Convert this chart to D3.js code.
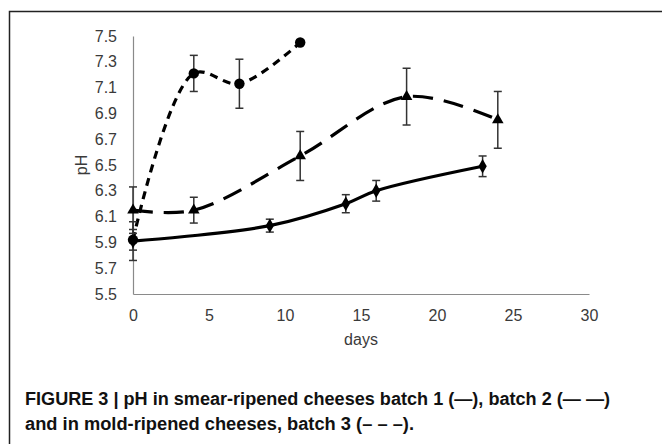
<!DOCTYPE html>
<html>
<head>
<meta charset="utf-8">
<script src="https://cdn.jsdelivr.net/npm/d3@7"></script>
<style>
  body { margin: 0; background: #fff; }
  svg { display: block; font-family: "Liberation Sans", Arial, sans-serif; }
  .tick text { fill: #3a3a3a; font-size: 16px; }
  .label { fill: #3a3a3a; font-size: 16px; }
  .caption { fill: #111; font-size: 17.5px; font-weight: bold; }
</style>
</head>
<body>
<svg></svg>
<script>
// batch 1, smear-ripened (solid, diamonds)
var days1 = [0, 9, 14, 16, 23]
var ph1 = [5.91, 6.03, 6.20, 6.30, 6.49]
var err1 = [0.15, 0.05, 0.07, 0.08, 0.08]

// batch 2, smear-ripened (long dash, triangles)
var days2 = [0, 4, 11, 18, 24]
var ph2 = [6.15, 6.15, 6.57, 7.03, 6.85]
var err2 = [0.18, 0.10, 0.19, 0.22, 0.22]

// batch 3, mold-ripened (short dash, circles)
var days3 = [0, 4, 7, 11]
var ph3 = [5.92, 7.21, 7.13, 7.45]
var err3 = [0.08, 0.14, 0.19, 0.02]

var xTicks = [0, 5, 10, 15, 20, 25, 30]
var yTicks = [5.5, 5.7, 5.9, 6.1, 6.3, 6.5, 6.7, 6.9, 7.1, 7.3, 7.5]

var captionLines = [
    'FIGURE 3 | pH in smear-ripened cheeses batch 1 (\u2014), batch 2 (\u2014 \u2014)',
    'and in mold-ripened cheeses, batch 3 (\u2013 \u2013 \u2013).'
]

document.addEventListener('DOMContentLoaded', () => {
    var width = 662
    var height = 444

    var svg = d3.select('svg')
        .attr('width', width)
        .attr('height', height)

    // frame around figure
    svg.append('path')
        .attr('d', 'M9.5,' + height + 'V11.5H' + width)
        .attr('fill', 'none')
        .attr('stroke', '#222')
        .attr('stroke-width', 1.5)

    var xScale = d3.scaleLinear()
        .domain([0, 30])
        .range([133, 589])

    var yScale = d3.scaleLinear()
        .domain([5.5, 7.5])
        .range([294, 36])

    var xAxis = d3.axisBottom(xScale)
        .tickValues(xTicks)
        .tickSize(0)
        .tickPadding(16)

    var yAxis = d3.axisLeft(yScale)
        .tickValues(yTicks)
        .tickFormat(d3.format('.1f'))
        .tickSize(0)
        .tickPadding(16)

    var gx = svg.append('g')
        .attr('transform', 'translate(0,' + yScale(5.5) + ')')
        .call(xAxis)
    gx.select('.domain').attr('stroke', '#8a8a8a').attr('stroke-width', 1.2)

    var gy = svg.append('g')
        .attr('transform', 'translate(' + xScale(0) + ',0)')
        .call(yAxis)
    gy.select('.domain').attr('stroke', '#8a8a8a').attr('stroke-width', 1.2)

    svg.selectAll('.tick text').attr('font-family', null).attr('font-size', null)
    gx.attr('font-size', null).attr('font-family', null)
    gy.attr('font-size', null).attr('font-family', null)

    // axis labels
    svg.append('text')
        .classed('label', true)
        .text('days')
        .attr('text-anchor', 'middle')
        .attr('x', xScale(15))
        .attr('y', 345)

    svg.append('text')
        .classed('label', true)
        .text('pH')
        .attr('text-anchor', 'middle')
        .attr('transform', 'translate(87,' + yScale(6.5) + ') rotate(-90)')

    var series = [
        { days: days3, ph: ph3, err: err3, dash: '8,6', marker: d3.symbolCircle, size: 85 },
        { days: days2, ph: ph2, err: err2, dash: '20,11', marker: d3.symbolTriangle, size: 58 },
        { days: days1, ph: ph1, err: err1, dash: null, marker: d3.symbolDiamond, size: 60 }
    ]

    var line = d3.line()
        .x(d => xScale(d[0]))
        .y(d => yScale(d[1]))
        .curve(d3.curveCatmullRom.alpha(0.5))

    series.forEach(s => {
        var pts = s.days.map((d, i) => [d, s.ph[i], s.err[i]])
        var g = svg.append('g')

        // error bars
        var eb = g.selectAll('.err')
            .data(pts)
            .enter()
            .append('g')
            .attr('stroke', '#333')
            .attr('stroke-width', 1.5)
        eb.append('line')
            .attr('x1', d => xScale(d[0]))
            .attr('x2', d => xScale(d[0]))
            .attr('y1', d => yScale(d[1] - d[2]))
            .attr('y2', d => yScale(d[1] + d[2]))
        eb.append('line')
            .attr('x1', d => xScale(d[0]) - 4)
            .attr('x2', d => xScale(d[0]) + 4)
            .attr('y1', d => yScale(d[1] - d[2]))
            .attr('y2', d => yScale(d[1] - d[2]))
        eb.append('line')
            .attr('x1', d => xScale(d[0]) - 4)
            .attr('x2', d => xScale(d[0]) + 4)
            .attr('y1', d => yScale(d[1] + d[2]))
            .attr('y2', d => yScale(d[1] + d[2]))

        g.append('path')
            .datum(pts)
            .attr('d', line)
            .attr('fill', 'none')
            .attr('stroke', '#000')
            .attr('stroke-width', 3.2)
            .attr('stroke-dasharray', s.dash)

        g.selectAll('.mark')
            .data(pts)
            .enter()
            .append('path')
            .attr('d', d3.symbol().type(s.marker).size(s.size))
            .attr('transform', d => 'translate(' + xScale(d[0]) + ',' + yScale(d[1]) + ')')
            .attr('fill', '#000')
    })

    // caption, stretched to the width of the original lines
    var captionWidths = [585, 389]
    svg.selectAll('.caption')
        .data(captionLines)
        .enter()
        .append('text')
        .classed('caption', true)
        .text(d => d)
        .attr('x', 25)
        .attr('y', (d, i) => 405 + i * 25)
        .attr('textLength', (d, i) => captionWidths[i])
        .attr('lengthAdjust', 'spacingAndGlyphs')
})
</script>
</body>
</html>
